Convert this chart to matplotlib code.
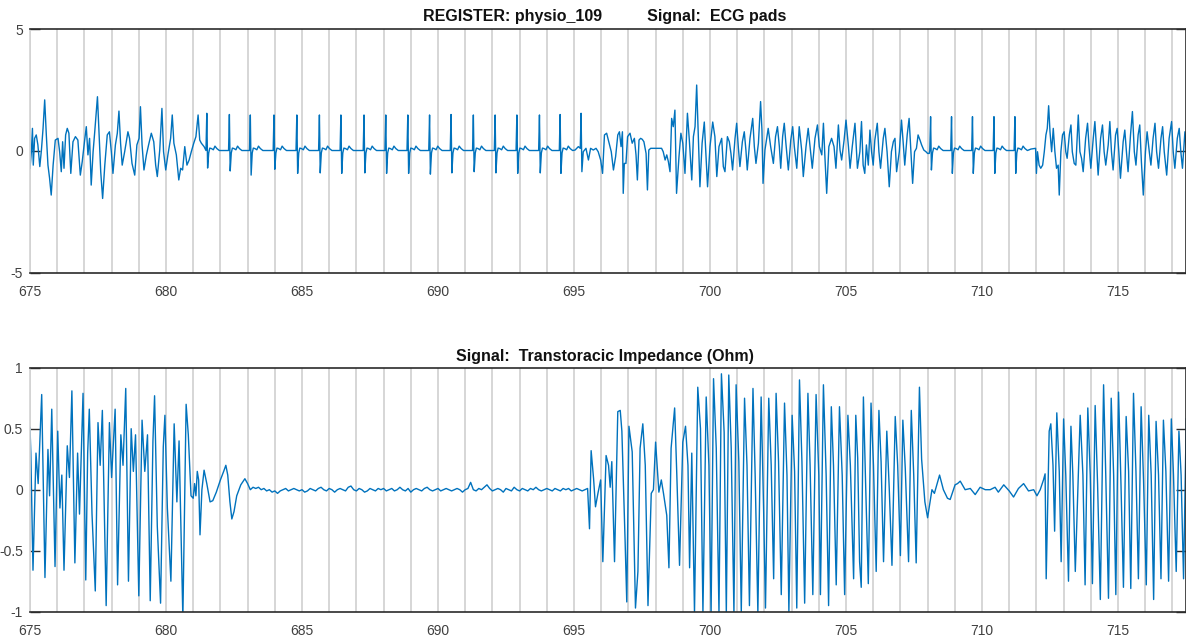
import numpy as np
import matplotlib
matplotlib.use("Agg")
import matplotlib.pyplot as plt
from matplotlib.ticker import MultipleLocator

plt.rcParams["font.family"] = ["Liberation Sans", "DejaVu Sans"]
plt.rcParams["axes.unicode_minus"] = False

register = "physio_109"
ecg_title = "ECG pads"
imp_title = "Transtoracic Impedance (Ohm)"

# ---------------- ECG pads (mV) ----------------
# irregular stretch at the start
ecg_a_t = [675.00, 675.05, 675.09, 675.12, 675.17, 675.23, 675.29, 675.36, 675.42, 675.48,
           675.54, 675.60, 675.66, 675.72, 675.78, 675.85, 675.93, 676.03, 676.09, 676.15,
           676.20, 676.25, 676.31, 676.37, 676.43, 676.50, 676.58, 676.67, 676.76, 676.85,
           676.92, 677.01, 677.07, 677.13, 677.19, 677.25, 677.32, 677.38, 677.48, 677.54,
           677.60, 677.67, 677.75, 677.84, 677.92, 677.99, 678.05, 678.14, 678.21, 678.27,
           678.33, 678.39, 678.48, 678.60, 678.66, 678.75, 678.85, 678.93, 679.01, 679.06,
           679.12, 679.19, 679.28, 679.36, 679.46, 679.55, 679.62, 679.68, 679.77, 679.85,
           679.91, 679.99, 680.07, 680.17, 680.23, 680.29, 680.38, 680.47, 680.54, 680.61,
           680.69, 680.77, 680.85, 680.93, 681.02, 681.10, 681.18, 681.24, 681.30, 681.40,
           681.46]
ecg_a_v = [-0.71, -0.03, 0.93, -0.58, 0.52, 0.66, 0.25, -0.64, 0.04, 0.93,
           2.10, 0.66, -0.58, -1.12, -1.81, -0.58, 0.45, 0.52, -0.03, -0.85,
           0.38, -0.71, 0.66, 0.93, 0.73, -0.92, 0.38, 0.59, 0.45, -0.99,
           -0.44, 0.45, 1.00, -0.16, 0.52, -1.40, -0.03, 0.79, 2.23, 0.66,
           -0.85, -1.95, -0.58, 0.66, 0.79, -0.03, -0.92, 0.25, 0.73, 1.64,
           0.32, -0.58, -0.03, 0.79, 0.52, -0.51, -0.99, 0.25, 0.52, 1.82,
           0.25, -0.78, -0.16, 0.25, 0.73, 0.38, -0.58, -1.05, 0.04, 1.75,
           -0.03, -0.78, -0.16, 0.52, 1.48, 0.32, -0.16, -1.19, -0.71, -0.78,
           0.18, -0.58, -0.37, -0.03, 0.32, 0.59, 1.48, 0.45, 0.32, 0.18,
           0.04]

# regular beats: R-peak times, R heights and S depths
beats1_t = [681.50, 682.33, 683.10, 683.97, 684.81, 685.64, 686.43, 687.28, 688.08,
            688.89, 689.69, 690.48, 691.30, 692.10, 692.90, 693.73, 694.49]
beats1_r = [1.55, 1.50, 1.48, 1.48, 1.48, 1.48, 1.48, 1.48, 1.48,
            1.48, 1.48, 1.50, 1.48, 1.48, 1.48, 1.48, 1.50]
beats1_s = [-0.70, -0.82, -0.99, -0.75, -0.92, -0.90, -0.92, -0.90, -0.92,
            -0.92, -0.95, -0.90, -0.85, -0.90, -0.92, -0.90, -0.92]

beats2_t = [708.11, 708.88, 709.65, 710.44, 711.21]
beats2_r = [1.41, 1.41, 1.41, 1.41, 1.41]
beats2_s = [-0.78, -0.92, -0.92, -0.92, -0.92]

# beat waveform around each R peak (seconds, mV); R and S taken from the lists above
beat_offsets = [-0.03, 0.0, 0.03, 0.07, 0.11, 0.17, 0.24, 0.30, 0.37, 0.46]
beat_shape = [0.02, None, None, -0.08, 0.12, 0.10, 0.05, 0.20, 0.10, 0.02]

# irregular middle stretch
ecg_b_t = [694.95, 695.04, 695.16, 695.23, 695.26, 695.29, 695.34, 695.44, 695.53, 695.61,
           695.71, 695.81, 695.89, 695.98, 696.05, 696.12, 696.20, 696.29, 696.37, 696.45,
           696.53, 696.61, 696.67, 696.73, 696.78, 696.81, 696.85, 696.91, 696.97, 697.06,
           697.14, 697.22, 697.28, 697.33, 697.39, 697.45, 697.51, 697.57, 697.65, 697.70,
           697.75, 697.82, 697.98, 698.10, 698.22, 698.28, 698.35, 698.41, 698.47, 698.53,
           698.59, 698.65, 698.71, 698.77, 698.86, 698.93, 699.00, 699.08, 699.17, 699.24,
           699.33, 699.39, 699.45, 699.51, 699.57, 699.63, 699.71, 699.79, 699.85, 699.91,
           700.00, 700.10, 700.18, 700.25, 700.33, 700.43, 700.49, 700.55, 700.64, 700.71,
           700.77, 700.83, 700.92, 700.98, 701.04, 701.10, 701.19, 701.26, 701.32, 701.37,
           701.47, 701.57, 701.63, 701.69, 701.78, 701.86, 701.91, 701.95, 702.02, 702.14,
           702.23, 702.33, 702.41, 702.48, 702.55, 702.60, 702.67, 702.73, 702.79, 702.88,
           702.97, 703.04, 703.10, 703.19, 703.28, 703.37, 703.43, 703.53, 703.61, 703.68,
           703.76, 703.86, 703.95, 704.02, 704.11, 704.17, 704.23, 704.29, 704.37, 704.47,
           704.56, 704.63, 704.72, 704.78, 704.84, 704.93, 705.00, 705.09, 705.15, 705.23,
           705.33, 705.42, 705.51, 705.57, 705.63, 705.69, 705.75, 705.82, 705.88, 705.94,
           706.00, 706.06, 706.15, 706.21, 706.27, 706.37, 706.43, 706.51, 706.59, 706.67,
           706.74, 706.80, 706.86, 706.96, 707.04, 707.10, 707.16, 707.25, 707.32, 707.38,
           707.45, 707.52, 707.59, 707.65, 707.72, 707.78, 707.86, 707.94, 708.00, 708.06]
ecg_b_v = [0.02, 0.04, 0.18, 0.11, 1.55, -0.85, -0.03, 0.11, -0.37, 0.11,
           0.04, 0.11, -0.03, -0.37, -0.92, 0.66, 0.73, 0.32, -0.03, -0.78,
           -0.23, 0.66, 0.79, 0.18, 0.79, -1.74, -0.51, -0.51, 0.59, 0.73,
           0.32, 0.52, -0.16, -1.19, 0.45, 0.52, 0.48, 0.38, -0.10, -1.60,
           0.04, 0.11, 0.11, 0.11, 0.11, -0.03, -0.37, -0.16, -0.44, -0.85,
           1.34, 1.00, 1.68, -1.74, -0.23, 0.73, 0.32, -0.92, 1.55, 0.45,
           -1.19, 0.59, 1.00, 2.71, 0.59, -1.47, 0.32, 1.19, -0.10, -1.47,
           0.18, 1.19, 0.59, -1.05, 0.18, 0.52, -0.64, -0.85, 0.59, 0.38,
           -0.10, -0.78, 0.52, 1.14, 0.18, -0.64, 0.38, 0.79, 0.04, -0.78,
           0.52, 1.34, 0.18, -0.51, 0.32, 2.03, 0.86, -1.33, 0.04, 0.93,
           0.18, -0.51, 0.59, 1.00, 0.18, -0.71, 0.59, 1.14, 0.32, -0.78,
           0.45, 1.00, 0.18, -0.71, 1.00, 0.04, -1.05, 0.18, 0.93, 0.18,
           -0.71, 0.52, 1.07, 0.18, -0.16, 1.14, -0.37, -1.74, 0.18, 0.52,
           0.18, -0.71, 1.07, 0.04, -0.37, 0.45, 1.27, 0.18, -0.71, 0.18,
           1.14, -0.71, -0.03, 1.21, -0.58, -0.92, 0.25, -0.58, 0.86, -0.03,
           -0.58, 0.45, 1.14, -0.03, -0.71, 0.52, 0.93, -0.03, -1.47, -0.03,
           0.38, 0.52, -0.85, -0.03, 1.27, 0.38, -0.58, 0.66, 1.34, 0.11,
           -1.33, -0.03, 0.11, 0.66, 0.45, 0.25, 0.04, -0.03, -0.10, -0.10]

# irregular stretch at the end
ecg_c_t = [711.80, 711.97, 712.00, 712.04, 712.10, 712.16, 712.23, 712.29, 712.35, 712.40,
           712.45, 712.50, 712.56, 712.62, 712.68, 712.74, 712.80, 712.84, 712.90, 712.96,
           713.02, 713.08, 713.13, 713.21, 713.27, 713.32, 713.39, 713.45, 713.54, 713.60,
           713.66, 713.72, 713.81, 713.88, 713.94, 714.00, 714.09, 714.15, 714.21, 714.27,
           714.36, 714.43, 714.49, 714.55, 714.64, 714.70, 714.76, 714.82, 714.91, 714.97,
           715.03, 715.09, 715.19, 715.25, 715.31, 715.37, 715.46, 715.53, 715.60, 715.66,
           715.74, 715.80, 715.86, 715.93, 716.01, 716.07, 716.15, 716.21, 716.29, 716.36,
           716.42, 716.49, 716.58, 716.64, 716.70, 716.79, 716.88, 716.97, 717.03, 717.09,
           717.18, 717.25, 717.31, 717.37, 717.46, 717.52]
ecg_c_v = [0.08, 0.11, -0.92, -0.03, -0.58, -0.71, -0.58, -0.03, 0.66, 0.93,
           1.86, 0.79, -0.03, 0.93, -0.03, -0.71, -0.58, -1.81, -0.03, 0.66,
           0.79, -0.03, -0.30, 0.66, 1.07, -0.03, -0.51, -0.58, 1.48, -0.03,
           -0.30, -0.85, 0.52, 1.14, 0.11, -0.71, 0.52, 1.21, 0.11, -0.99,
           0.52, 1.07, -0.03, -0.58, 0.25, 1.21, -0.03, -0.78, 0.66, 0.93,
           -0.03, -1.12, 0.38, 0.86, -0.03, -0.85, 0.66, 1.62, -0.03, -0.58,
           0.66, 1.07, -0.44, -1.81, -0.03, 0.79, -0.03, -0.58, 0.52, 1.14,
           -0.03, -0.71, 0.52, 1.00, -0.03, -0.99, 0.52, 1.21, -0.03, -0.71,
           0.52, 0.93, -0.03, -0.71, 0.79, -0.03]

# ---------------- Transthoracic impedance (Ohm) ----------------
imp_a_t = [675.00, 675.03, 675.11, 675.22, 675.30, 675.43, 675.55, 675.66, 675.72, 675.80,
           675.92, 676.02, 676.10, 676.17, 676.25, 676.37, 676.45, 676.54, 676.65, 676.75,
           676.82, 676.95, 677.05, 677.12, 677.18, 677.28, 677.40, 677.50, 677.58, 677.66,
           677.80, 677.92, 678.00, 678.13, 678.22, 678.34, 678.42, 678.52, 678.62, 678.72,
           678.80, 678.88, 679.00, 679.12, 679.22, 679.32, 679.42, 679.52, 679.58, 679.68,
           679.80, 679.90, 679.96, 680.05, 680.18, 680.30, 680.40, 680.48, 680.62, 680.74,
           680.82, 680.92, 681.00, 681.05, 681.10, 681.15, 681.20, 681.25, 681.32, 681.40,
           681.50, 681.62, 681.72, 681.85, 682.00, 682.12, 682.20, 682.27, 682.35, 682.42,
           682.50, 682.60, 682.75, 682.90, 683.00, 683.10]
imp_a_v = [0.51, 0.30, -0.66, 0.30, 0.05, 0.78, -0.72, 0.33, -0.05, 0.66,
           -0.63, 0.48, -0.15, 0.12, -0.66, 0.36, 0.10, 0.81, -0.60, 0.30,
           -0.20, 0.79, -0.74, 0.30, 0.66, -0.20, -0.83, 0.55, 0.20, 0.65,
           -0.95, 0.55, 0.10, 0.66, -0.78, 0.45, 0.20, 0.83, -0.75, 0.50,
           0.15, 0.45, -0.87, 0.57, 0.15, 0.45, -0.91, 0.40, 0.77, -0.30,
           -0.93, 0.35, 0.61, -0.15, -0.75, 0.54, -0.10, 0.40, -1.05, 0.70,
           0.45, -0.05, -0.07, 0.05, -0.05, 0.15, 0.08, -0.37, 0.00, 0.16,
           0.05, -0.10, -0.09, -0.02, 0.08, 0.15, 0.20, 0.12, -0.10, -0.24,
           -0.18, -0.05, 0.04, 0.09, 0.05, 0.00]

# flat stretch, one sample every 0.1 s from 683.2 s
imp_flat_start = 683.2
imp_flat_v = [0.02, 0.01, 0.02, 0.00, 0.01, -0.01, 0.00, -0.02, -0.01, -0.03,
              -0.01, 0.00, 0.01, -0.01, 0.00, 0.01, 0.00, -0.01, 0.00, -0.02,
              -0.01, 0.01, 0.00, -0.01, 0.01, 0.02, 0.00, -0.01, 0.01, 0.00,
              -0.02, 0.00, 0.01, 0.00, -0.01, 0.02, 0.03, 0.00, -0.01, 0.01,
              0.00, -0.02, -0.01, 0.01, 0.00, -0.01, 0.01, 0.00, 0.01, -0.01,
              0.00, 0.01, -0.01, 0.00, 0.02, 0.00, -0.01, 0.01, -0.02, 0.00,
              0.01, 0.00, -0.01, 0.01, 0.02, 0.00, -0.01, 0.00, 0.01, -0.01,
              0.00, 0.01, 0.00, -0.01, 0.00, 0.01, 0.00, -0.02, 0.00, 0.01,
              0.06, 0.00, -0.01, 0.01, 0.00, 0.02, 0.04, 0.01, -0.01, 0.00,
              0.01, 0.00, -0.02, 0.01, 0.00, -0.01, 0.02, 0.00, -0.01, 0.01,
              0.00, -0.01, 0.01, 0.00, 0.02, 0.00, -0.01, 0.00, 0.01, 0.00,
              -0.01, 0.01, 0.00, -0.01, 0.01, 0.00, 0.01, -0.01, 0.00, 0.01,
              0.00, -0.01, 0.00, 0.01]

imp_b_t = [695.57, 695.63, 695.72, 695.79, 695.88, 695.98, 696.06, 696.18, 696.27, 696.33,
           696.39, 696.49, 696.61, 696.70, 696.76, 696.88, 696.94, 697.02, 697.14, 697.26,
           697.35, 697.43, 697.53, 697.62, 697.72, 697.84, 697.92, 698.00, 698.12, 698.21,
           698.29, 698.41, 698.49, 698.57, 698.70, 698.78, 698.88, 699.00, 699.10, 699.19,
           699.25, 699.33, 699.43, 699.55, 699.65, 699.74, 699.86, 699.96, 700.04, 700.13,
           700.23, 700.33, 700.42, 700.52, 700.60, 700.69, 700.78, 700.88, 700.96, 701.06,
           701.15, 701.27, 701.36, 701.45, 701.58, 701.66, 701.76, 701.88, 701.97, 702.04,
           702.16, 702.25, 702.34, 702.43, 702.52, 702.62, 702.74, 702.83, 702.90, 703.02,
           703.11, 703.19, 703.29, 703.38, 703.48, 703.60, 703.68, 703.78, 703.90, 704.00,
           704.06, 704.17, 704.27, 704.36, 704.46, 704.54, 704.64, 704.76, 704.86, 704.95,
           705.07, 705.16, 705.28, 705.36, 705.43, 705.50, 705.56, 705.64, 705.72, 705.82,
           705.92, 706.01, 706.11, 706.21, 706.29, 706.38, 706.50, 706.59, 706.69, 706.81,
           706.90, 707.00, 707.09, 707.18, 707.30, 707.40, 707.49, 707.58, 707.70, 707.78,
           707.90, 708.00, 708.16, 708.25, 708.44, 708.58, 708.73, 708.83, 709.01, 709.10,
           709.20, 709.38, 709.57, 709.75, 709.93, 710.12, 710.30, 710.48, 710.60, 710.80,
           711.00, 711.16, 711.34, 711.53, 711.71, 711.90, 712.02, 712.14, 712.26, 712.32]
imp_b_v = [-0.32, 0.32, 0.09, -0.14, -0.03, 0.08, -0.59, 0.28, 0.20, 0.02,
           0.23, -0.59, 0.64, 0.65, 0.48, -0.43, -0.92, 0.52, 0.31, -0.97,
           -0.67, 0.34, 0.54, 0.20, -0.95, -0.03, 0.00, 0.39, -0.02, 0.08,
           -0.03, -0.21, -0.64, 0.34, 0.67, 0.12, -0.62, 0.39, 0.52, 0.20,
           -0.64, 0.30, -1.01, 0.84, 0.50, -1.01, 0.76, 0.20, -1.01, 0.91,
           0.34, -1.01, 0.95, 0.47, -1.01, 0.94, 0.34, -1.01, 0.86, 0.23,
           -1.00, 0.75, 0.20, -0.95, 0.83, 0.12, -1.01, 0.76, -0.15, -0.97,
           0.75, 0.20, -0.73, 0.79, 0.23, -0.86, 0.71, 0.12, -1.00, 0.61,
           0.15, -0.97, 0.90, 0.23, -0.93, 0.79, 0.20, -0.86, 0.78, 0.12,
           -0.86, 0.86, 0.12, -0.95, 0.68, 0.20, -0.78, 0.68, 0.12, -0.86,
           0.61, 0.20, -0.73, 0.61, 0.26, -0.59, -0.80, 0.76, 0.06, -0.77,
           0.71, 0.20, -0.67, 0.65, 0.23, -0.59, 0.48, 0.01, -0.62, 0.60,
           0.20, -0.54, 0.57, 0.17, -0.59, 0.65, 0.12, -0.60, 0.84, 0.25,
           -0.10, -0.23, 0.00, -0.03, 0.12, 0.00, -0.07, -0.08, 0.04, 0.05,
           0.07, 0.00, 0.01, -0.04, 0.02, 0.00, 0.00, 0.02, -0.02, 0.04,
           -0.01, -0.06, 0.01, 0.05, -0.01, 0.00, -0.05, 0.00, 0.08, 0.13]

imp_c_t = [712.36, 712.47, 712.53, 712.61, 712.67, 712.75, 712.84, 712.91, 713.00, 713.08,
           713.18, 713.27, 713.34, 713.43, 713.61, 713.71, 713.79, 713.89, 713.98, 714.06,
           714.16, 714.25, 714.35, 714.47, 714.55, 714.65, 714.75, 714.84, 714.92, 715.02,
           715.11, 715.20, 715.30, 715.39, 715.47, 715.57, 715.66, 715.75, 715.85, 715.94,
           716.04, 716.13, 716.22, 716.31, 716.40, 716.49, 716.58, 716.67, 716.76, 716.86,
           716.96, 717.04, 717.14, 717.24, 717.32, 717.41, 717.51]
imp_c_v = [-0.73, 0.48, 0.54, 0.20, -0.34, 0.63, 0.15, -0.59, 0.58, 0.12,
           -0.75, 0.52, 0.12, -0.67, 0.61, 0.12, -0.78, 0.67, 0.12, -0.77,
           0.69, 0.04, -0.90, 0.86, 0.12, -0.89, 0.75, 0.12, -0.86, 0.80,
           0.04, -0.80, 0.60, 0.15, -0.81, 0.79, 0.15, -0.73, 0.68, 0.07,
           -0.78, 0.61, 0.12, -0.90, 0.56, 0.12, -0.73, 0.57, 0.15, -0.75,
           0.58, 0.12, -0.67, 0.48, 0.12, -0.73, 0.58]

x_range = (675, 717.5)
x_major = [675, 680, 685, 690, 695, 700, 705, 710, 715]
ecg_ticks = [-5, 0, 5]
imp_ticks = [-1, -0.5, 0, 0.5, 1]
imp_tick_labels = ["-1", "-0.5", "0", "0.5", "1"]

LINE = "#0072BD"
SPINE = "#2b2b2b"
GRID = "#d3d3d3"
TICKTXT = "#404040"


def place_beats(times, r_amp, s_amp):
    ts, vs = [], []
    for b, r, s in zip(times, r_amp, s_amp):
        for off, val in zip(beat_offsets, beat_shape):
            ts.append(b + off)
            if val is None:
                vs.append(r if off == 0.0 else s)
            else:
                vs.append(val)
    return ts, vs


b1_t, b1_v = place_beats(beats1_t, beats1_r, beats1_s)
b2_t, b2_v = place_beats(beats2_t, beats2_r, beats2_s)
ecg_t = np.array(ecg_a_t + b1_t + ecg_b_t + b2_t + ecg_c_t)
ecg_v = np.array(ecg_a_v + b1_v + ecg_b_v + b2_v + ecg_c_v)
order = np.argsort(ecg_t, kind="stable")
ecg_t, ecg_v = ecg_t[order], ecg_v[order]

flat_t = list(imp_flat_start + 0.1 * np.arange(len(imp_flat_v)))
imp_t = np.array(imp_a_t + flat_t + imp_b_t + imp_c_t)
imp_v = np.array(imp_a_v + imp_flat_v + imp_b_v + imp_c_v)

W, H = 1186, 636
fig = plt.figure(figsize=(W / 100, H / 100), dpi=100)
ax1 = fig.add_axes([30 / W, (H - 272.7) / H, 1156 / W, 243.4 / H])
ax2 = fig.add_axes([30 / W, (H - 611.7) / H, 1156 / W, 244.0 / H])


def style(ax, ylim, yticks, ylabels):
    ax.set_xlim(*x_range)
    ax.set_ylim(*ylim)
    ax.set_xticks(x_major)
    ax.set_xticklabels([str(v) for v in x_major])
    ax.xaxis.set_minor_locator(MultipleLocator(1))
    ax.set_yticks(yticks)
    ax.set_yticklabels(ylabels)
    ax.grid(True, axis="x", which="both", color=GRID, linewidth=1.3)
    ax.set_axisbelow(True)
    ax.tick_params(axis="y", direction="in", length=7, width=1.0, color=SPINE,
                   labelsize=10, labelcolor=TICKTXT, right=True, pad=5)
    ax.tick_params(axis="x", which="both", length=0, labelsize=10,
                   labelcolor=TICKTXT, pad=9)
    for side in ("top", "bottom", "right"):
        ax.spines[side].set_color(SPINE)
        ax.spines[side].set_linewidth(1.2)
    ax.spines["left"].set_color(GRID)
    ax.spines["left"].set_linewidth(1.2)


ax1.plot(ecg_t, ecg_v, color=LINE, linewidth=1.0)
style(ax1, (-5, 5), ecg_ticks, [str(v) for v in ecg_ticks])
ax2.plot(imp_t, imp_v, color=LINE, linewidth=1.0)
style(ax2, (-1, 1), imp_ticks, imp_tick_labels)

fig.text(605 / W, (H - 21.5) / H,
         "REGISTER: " + register + " " * 10 + "Signal:  " + ecg_title,
         ha="center", va="baseline", fontsize=11.5, fontweight="bold", color="#111111")
fig.text(604.5 / W, (H - 360.5) / H, "Signal:  " + imp_title,
         ha="center", va="baseline", fontsize=11.5, fontweight="bold", color="#111111")

fig.savefig("out.png", dpi=100)
